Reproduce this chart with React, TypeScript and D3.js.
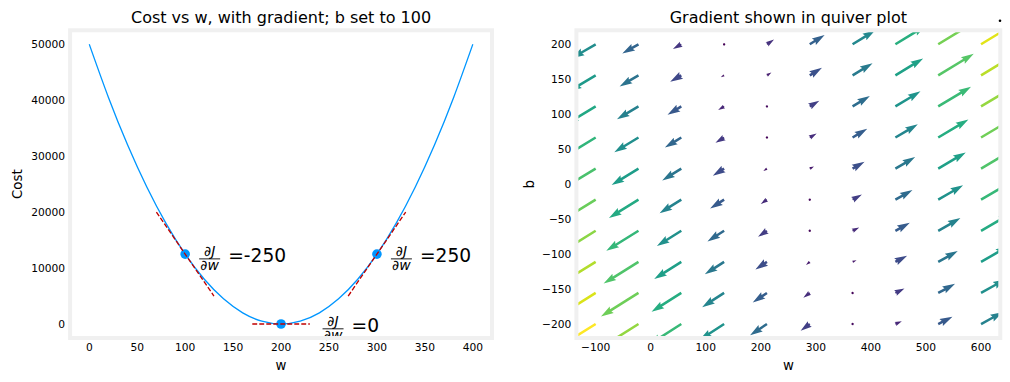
import React from "react";
import * as d3 from "d3";

// ---------- Left panel data: cost vs w (b = 100) ----------
const costW = [0, 20, 40, 60, 80, 100, 120, 140, 160, 180, 200, 220, 240, 260, 280, 300, 320, 340, 360, 380, 400];
const costJ = [50000, 40500, 32000, 24500, 18000, 12500, 8000, 4500, 2000, 500, 0, 500, 2000, 4500, 8000, 12500, 18000, 24500, 32000, 40500, 50000];
const tangentW = [100, 200, 300];
const tangentJ = [12500, 0, 12500];
const tangentSlope = [-250, 0, 250];
const tangentHalfSpan = 30;
const leftXTicks = [0, 50, 100, 150, 200, 250, 300, 350, 400];
const leftYTicks = [0, 10000, 20000, 30000, 40000, 50000];

// ---------- Right panel data: quiver grid ----------
const gridW = [-100, -22.22, 55.56, 133.33, 211.11, 288.89, 366.67, 444.44, 522.22, 600];
const gridB = [-200, -155.56, -111.11, -66.67, -22.22, 22.22, 66.67, 111.11, 155.56, 200];
// rows: w index, cols: b index
const gradU = [
  [-1200, -1133.3, -1066.7, -1000, -933.3, -866.7, -800, -733.3, -666.7, -600],
  [-1005.6, -938.9, -872.2, -805.6, -738.9, -672.2, -605.6, -538.9, -472.2, -405.6],
  [-811.1, -744.4, -677.8, -611.1, -544.4, -477.8, -411.1, -344.4, -277.8, -211.1],
  [-616.7, -550, -483.3, -416.7, -350, -283.3, -216.7, -150, -83.3, -16.7],
  [-422.2, -355.6, -288.9, -222.2, -155.6, -88.9, -22.2, 44.4, 111.1, 177.8],
  [-227.8, -161.1, -94.4, -27.8, 38.9, 105.6, 172.2, 238.9, 305.6, 372.2],
  [-33.3, 33.3, 100, 166.7, 233.3, 300, 366.7, 433.3, 500, 566.7],
  [161.1, 227.8, 294.4, 361.1, 427.8, 494.4, 561.1, 627.8, 694.4, 761.1],
  [355.6, 422.2, 488.9, 555.6, 622.2, 688.9, 755.6, 822.2, 888.9, 955.6],
  [550, 616.7, 683.3, 750, 816.7, 883.3, 950, 1016.7, 1083.3, 1150],
];
const gradV = [
  [-750, -705.6, -661.1, -616.7, -572.2, -527.8, -483.3, -438.9, -394.4, -350],
  [-633.3, -588.9, -544.4, -500, -455.6, -411.1, -366.7, -322.2, -277.8, -233.3],
  [-516.7, -472.2, -427.8, -383.3, -338.9, -294.4, -250, -205.6, -161.1, -116.7],
  [-400, -355.6, -311.1, -266.7, -222.2, -177.8, -133.3, -88.9, -44.4, 0],
  [-283.3, -238.9, -194.4, -150, -105.6, -61.1, -16.7, 27.8, 72.2, 116.7],
  [-166.7, -122.2, -77.8, -33.3, 11.1, 55.6, 100, 144.4, 188.9, 233.3],
  [-50, -5.6, 38.9, 83.3, 127.8, 172.2, 216.7, 261.1, 305.6, 350],
  [66.7, 111.1, 155.6, 200, 244.4, 288.9, 333.3, 377.8, 422.2, 466.7],
  [183.3, 227.8, 272.2, 316.7, 361.1, 405.6, 450, 494.4, 538.9, 583.3],
  [300, 344.4, 388.9, 433.3, 477.8, 522.2, 566.7, 611.1, 655.6, 700],
];
const rightXTicks = [-100, 0, 100, 200, 300, 400, 500, 600];
const rightYTicks = [-200, -150, -100, -50, 0, 50, 100, 150, 200];

const FONT = "'DejaVu Sans', sans-serif";
const SPINE = "#f0f0f0";
const BLUE = "#0096ff";
const DARKRED = "#C00000";

const fmt = (v: number) => (v < 0 ? "\u2212" + Math.abs(v) : String(v));

function Annot({ px, py, dx, value }: { px: number; py: number; dx: number; value: number }) {
  const fx = px + dx;
  const bw = 21;
  const cx = fx + bw / 2;
  return (
    <g fontFamily={FONT} fill="#000">
      <text fontSize={14} textAnchor="middle">
        <tspan x={cx} y={py + 1.8}>
          ∂<tspan fontStyle="italic">J</tspan>
        </tspan>
        <tspan x={cx} y={py + 15.5}>
          ∂<tspan fontStyle="italic">w</tspan>
        </tspan>
      </text>
      <line x1={fx} x2={fx + bw} y1={py + 4.8} y2={py + 4.8} stroke="#000" strokeWidth={0.9} />
      <text x={fx + 29} y={py + 8} fontSize={18.67}>
        ={value}
      </text>
    </g>
  );
}

export default function App() {
  const top = 30.3;
  const bottom = 338;
  const L = { x0: 70.1, x1: 492 };
  const R = { x0: 576.4, x1: 1000.3 };

  const xL = d3.scaleLinear().domain([-20, 420]).range([L.x0, L.x1]);
  const yL = d3.scaleLinear().domain([-2500, 52500]).range([bottom, top]);
  const xR = d3.scaleLinear().domain([-135, 635]).range([R.x0, R.x1]);
  const yR = d3.scaleLinear().domain([-220, 220]).range([bottom, top]);

  const costLine = d3
    .line<number>()
    .x((_, i) => xL(costW[i]))
    .y((d) => yL(d))
    .curve(d3.curveNatural)(costJ) as string;

  // quiver geometry (matplotlib-like autoscale)
  const mags: number[] = [];
  const cvals: number[] = [];
  gradU.forEach((row, i) =>
    row.forEach((u, j) => {
      const v = gradV[i][j];
      mags.push(Math.hypot(u, v));
      cvals.push(Math.hypot((v + 2) / 2, (u + 2) / 2));
    })
  );
  const amean = d3.mean(mags) as number;
  const axW = R.x1 - R.x0;
  const shaftPx = 0.006 * axW;
  const pxPerUnit = axW / (18 * amean);
  const cExt = d3.extent(cvals) as [number, number];
  const color = d3.scaleSequential(d3.interpolateViridis).domain(cExt);

  const arrows: { d: string; fill: string }[] = [];
  gradU.forEach((row, i) =>
    row.forEach((u, j) => {
      const v = gradV[i][j];
      const a = Math.hypot(u, v);
      const Ls = (a * pxPerUnit) / shaftPx;
      let pts: [number, number][];
      if (Ls < 1) {
        pts = d3.range(6).map((k) => [Math.cos((k * Math.PI) / 3) * 0.5, Math.sin((k * Math.PI) / 3) * 0.5]);
      } else if (Ls < 5) {
        const s = Ls / 5;
        pts = ([[0, 0.5], [0.5, 0.5], [0, 1.5], [5, 0], [0, -1.5], [0.5, -0.5], [0, -0.5]] as [number, number][]).map(
          (p) => [p[0] * s, p[1] * s]
        );
      } else {
        pts = [[0, 0.5], [Ls - 4.5, 0.5], [Ls - 5, 1.5], [Ls, 0], [Ls - 5, -1.5], [Ls - 4.5, -0.5], [0, -0.5]];
      }
      const th = Math.atan2(v, u);
      const c = Math.cos(th);
      const s = Math.sin(th);
      const tx = xR(gridW[i]);
      const ty = yR(gridB[j]);
      const scr = pts.map(([px, py]) => [tx + (px * c - py * s) * shaftPx, ty - (px * s + py * c) * shaftPx]) as [number, number][];
      const d = d3.line().curve(d3.curveLinearClosed)(scr) as string;
      arrows.push({ d, fill: color(cvals[i * 10 + j]) as string });
    })
  );

  const lw = 1.33;

  return (
    <svg width={1010} height={382} style={{ position: "absolute", left: 0, top: 0, background: "#fff" }} fontFamily={FONT}>
      <defs>
        <clipPath id="clipL">
          <rect x={L.x0} y={top} width={L.x1 - L.x0} height={bottom - top} />
        </clipPath>
        <clipPath id="clipR">
          <rect x={R.x0} y={top} width={R.x1 - R.x0} height={bottom - top} />
        </clipPath>
      </defs>
      <rect x={0} y={0} width={1010} height={382} fill="#fff" />

      {/* ---------- Left panel ---------- */}
      <text x={(L.x0 + L.x1) / 2} y={22.5} fontSize={16} textAnchor="middle" fill="#000">
        Cost vs w, with gradient; b set to 100
      </text>
      <g clipPath="url(#clipL)">
        {tangentW.map((w, k) => (
          <circle key={"dot" + k} cx={xL(w)} cy={yL(tangentJ[k])} r={4.8} fill={BLUE} />
        ))}
        <path d={costLine} fill="none" stroke={BLUE} strokeWidth={lw} />
        {tangentW.map((w, k) => {
          const xa = w - tangentHalfSpan;
          const xb = w + tangentHalfSpan;
          return (
            <line
              key={"tan" + k}
              x1={xL(xa)}
              y1={yL(tangentSlope[k] * (xa - w) + tangentJ[k])}
              x2={xL(xb)}
              y2={yL(tangentSlope[k] * (xb - w) + tangentJ[k])}
              stroke={DARKRED}
              strokeWidth={lw}
              strokeDasharray="4.9 2.1"
            />
          );
        })}
      </g>
      {tangentW.map((w, k) => (
        <Annot key={"an" + k} px={xL(w)} py={yL(tangentJ[k])} dx={w === 200 ? 41.5 : 14} value={tangentSlope[k]} />
      ))}
      <rect x={L.x0} y={top} width={L.x1 - L.x0} height={bottom - top} fill="none" stroke={SPINE} strokeWidth={4} />
      {leftXTicks.map((t) => (
        <text key={"lx" + t} x={xL(t)} y={351} fontSize={10.67} textAnchor="middle" fill="#000">
          {fmt(t)}
        </text>
      ))}
      {leftYTicks.map((t) => (
        <text key={"ly" + t} x={L.x0 - 5} y={yL(t) + 3.9} fontSize={10.67} textAnchor="end" fill="#000">
          {fmt(t)}
        </text>
      ))}
      <text x={(L.x0 + L.x1) / 2} y={370} fontSize={13.33} textAnchor="middle" fill="#000">
        w
      </text>
      <text transform={`translate(22, ${(top + bottom) / 2}) rotate(-90)`} fontSize={13.33} textAnchor="middle" fill="#000">
        Cost
      </text>

      {/* ---------- Right panel ---------- */}
      <text x={(R.x0 + R.x1) / 2} y={22.5} fontSize={16} textAnchor="middle" fill="#000">
        Gradient shown in quiver plot
      </text>
      <g clipPath="url(#clipR)">
        {arrows.map((a, k) => (
          <path key={"arr" + k} d={a.d} fill={a.fill} stroke="none" />
        ))}
      </g>
      <rect x={R.x0} y={top} width={R.x1 - R.x0} height={bottom - top} fill="none" stroke={SPINE} strokeWidth={4} />
      {rightXTicks.map((t) => (
        <text key={"rx" + t} x={xR(t)} y={351} fontSize={10.67} textAnchor="middle" fill="#000">
          {fmt(t)}
        </text>
      ))}
      {rightYTicks.map((t) => (
        <text key={"ry" + t} x={R.x0 - 5} y={yR(t) + 3.9} fontSize={10.67} textAnchor="end" fill="#000">
          {fmt(t)}
        </text>
      ))}
      <text x={(R.x0 + R.x1) / 2} y={370} fontSize={13.33} textAnchor="middle" fill="#000">
        w
      </text>
      <text transform={`translate(534, ${(top + bottom) / 2}) rotate(-90)`} fontSize={13.33} textAnchor="middle" fill="#000">
        b
      </text>
      {/* quiver key (tiny reference arrow) */}
      <circle cx={1000} cy={20.8} r={1.3} fill="#000" />
    </svg>
  );
}
